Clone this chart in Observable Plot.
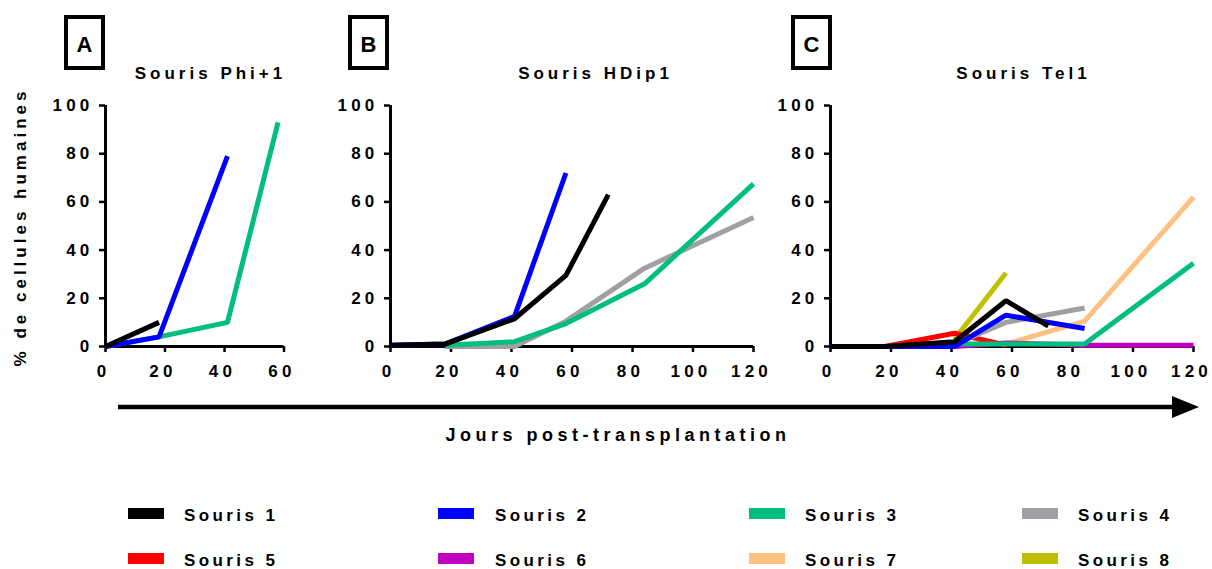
<!DOCTYPE html>
<html>
<head>
<meta charset="utf-8">
<script src="https://cdn.jsdelivr.net/npm/d3@7"></script>
<script src="https://cdn.jsdelivr.net/npm/@observablehq/plot@0.6"></script>
<style>
  html, body { margin: 0; padding: 0; background: #fff; }
  #wrap { position: relative; width: 1212px; height: 569px; overflow: hidden; font-family: Arial, "Liberation Sans", sans-serif; }
  #wrap > svg, #wrap > figure { position: absolute; top: 0; margin: 0; }
</style>
</head>
<body>
<div id="wrap"></div>
<script>
// ---- data ----
const mice = ["Souris 1", "Souris 2", "Souris 3", "Souris 4", "Souris 5", "Souris 6", "Souris 7", "Souris 8"];
const colors = ["#000000", "#0000ff", "#00be7d", "#a0a0a4", "#ff0000", "#c000c0", "#ffc080", "#c0c000"];
const panelTitles = ["Souris Phi+1", "Souris HDip1", "Souris Tel1"];
const panelLetters = ["A", "B", "C"];
const yTicks = [0, 20, 40, 60, 80, 100];
const xTicksA = [0, 20, 40, 60];
const xTicksBC = [0, 20, 40, 60, 80, 100, 120];
const yTitle = "% de cellules humaines";
const xTitle = "Jours post-transplantation";

// rows: [mouse number, jour, % cellules humaines]
const phiRows = [
  [1, 0, 0], [1, 18, 10],
  [2, 0, 0], [2, 18, 4], [2, 41, 79],
  [3, 0, 0], [3, 18, 4], [3, 41, 10], [3, 58, 93]
];
const hdipRows = [
  [1, 0, 0.5], [1, 18, 1], [1, 41, 11.5], [1, 58, 29.5], [1, 72, 63],
  [2, 0, 0.5], [2, 18, 1], [2, 41, 12.5], [2, 58, 72],
  [3, 18, 0.5], [3, 41, 2], [3, 58, 9.5], [3, 84, 26], [3, 120, 67.5],
  [4, 18, 0], [4, 41, 0], [4, 58, 10.5], [4, 84, 32.5], [4, 120, 53.5]
];
const telRows = [
  [1, 0, 0], [1, 18, 0], [1, 41, 2], [1, 58, 19], [1, 72, 8.5],
  [2, 0, 0], [2, 18, 0], [2, 41, 0], [2, 58, 13], [2, 84, 7.5],
  [3, 41, 1], [3, 58, 1], [3, 84, 1], [3, 120, 34.5],
  [4, 41, 1], [4, 58, 10], [4, 84, 16],
  [5, 0, 0], [5, 18, 0], [5, 41, 5.5], [5, 58, 0.5],
  [6, 41, 0], [6, 58, 1.5], [6, 84, 0.5], [6, 120, 0.5],
  [7, 58, 1], [7, 84, 10.5], [7, 120, 62],
  [8, 41, 3], [8, 58, 30.5]
];

// ---- helpers ----
const wrap = document.getElementById("wrap");
const FONT = 'Arial, "Liberation Sans", sans-serif';

function toRecords(rows) {
  // draw mouse 8 first so Souris 1 ends on top
  return rows.map(([m, d, v]) => ({mouse: mice[m - 1], id: m, jour: d, pct: v}))
    .sort((a, b) => b.id - a.id || a.jour - b.jour);
}

function panel(rows, xTicks, xMax, left, width, marginLeft, marginRight) {
  const svg = Plot.plot({
    width, height: 400,
    marginTop: 105, marginBottom: 54, marginLeft, marginRight,
    x: {domain: [0, xMax], label: null},
    y: {domain: [0, 100], label: null},
    color: {domain: mice, range: colors},
    style: {fontFamily: FONT, fontSize: "17px", fontWeight: "bold", color: "#000", background: "transparent", overflow: "visible", letterSpacing: "4.2px"},
    marks: [
      Plot.axisX({ticks: xTicks, tickSize: 6, text: null, strokeWidth: 2.5, label: null}),
      Plot.axisX({ticks: xTicks, tickSize: 0, tickPadding: 18, label: null, fill: "#000", dx: -2}),
      Plot.axisY({ticks: yTicks, tickSize: 6, tickPadding: 6, strokeWidth: 2.5, label: null, fill: "#000"}),
      Plot.ruleX([0], {strokeWidth: 3}),
      Plot.ruleY([0], {strokeWidth: 3}),
      Plot.line(toRecords(rows), {x: "jour", y: "pct", z: "mouse", stroke: "mouse", strokeWidth: 5, strokeLinejoin: "miter", strokeLinecap: "butt"})
    ]
  });
  svg.style.position = "absolute";
  svg.style.left = left + "px";
  svg.style.top = "0px";
  wrap.appendChild(svg);
}

panel(phiRows, xTicksA, 60, 0, 300, 105, 16.5);
panel(hdipRows, xTicksBC, 120, 330, 450, 60, 27);
panel(telRows, xTicksBC, 120, 770, 442, 60, 19);

// ---- overlay: panel labels, titles, arrow, axis titles, legend ----
const ov = d3.select(wrap).append("svg")
  .attr("width", 1212).attr("height", 569)
  .style("position", "absolute").style("left", 0).style("top", 0)
  .style("font-family", FONT).style("font-weight", "bold").style("pointer-events", "none");

const boxX = [66, 350, 793];
const titleCx = [208.5, 593.5, 1021.5];
panelLetters.forEach((L, i) => {
  ov.append("rect").attr("x", boxX[i]).attr("y", 17).attr("width", 37).attr("height", 51)
    .attr("fill", "none").attr("stroke", "#000").attr("stroke-width", 4);
  ov.append("text").attr("x", boxX[i] + 18.5).attr("y", 52).attr("text-anchor", "middle")
    .style("font-size", "22px").text(L);
  ov.append("text").attr("x", titleCx[i] + 2).attr("y", 79).attr("text-anchor", "middle")
    .style("font-size", "17px").style("letter-spacing", "4px").text(panelTitles[i]);
});

// y title
ov.append("text").attr("transform", "translate(26,227) rotate(-90)").attr("text-anchor", "middle")
  .style("font-size", "17px").style("letter-spacing", "4px").text(yTitle);

// arrow
ov.append("line").attr("x1", 118).attr("x2", 1176).attr("y1", 407).attr("y2", 407)
  .attr("stroke", "#000").attr("stroke-width", 4.5);
ov.append("path").attr("d", "M1172,396 L1199,407 L1172,418 Z").attr("fill", "#000");
ov.append("text").attr("x", 618).attr("y", 441).attr("text-anchor", "middle")
  .style("font-size", "18px").style("letter-spacing", "4.5px").text(xTitle);

// legend
const legSwX = [128, 438, 749, 1022];
const legTxX = [184, 495, 805, 1078];
const legY = [508, 553];
mice.forEach((m, i) => {
  const c = i % 4, r = Math.floor(i / 4);
  ov.append("rect").attr("x", legSwX[c]).attr("y", legY[r]).attr("width", 36).attr("height", 11).attr("fill", colors[i]);
  ov.append("text").attr("x", legTxX[c]).attr("y", legY[r] + 13).style("font-size", "17px")
    .style("letter-spacing", "3.4px").text(m);
});
</script>
</body>
</html>
